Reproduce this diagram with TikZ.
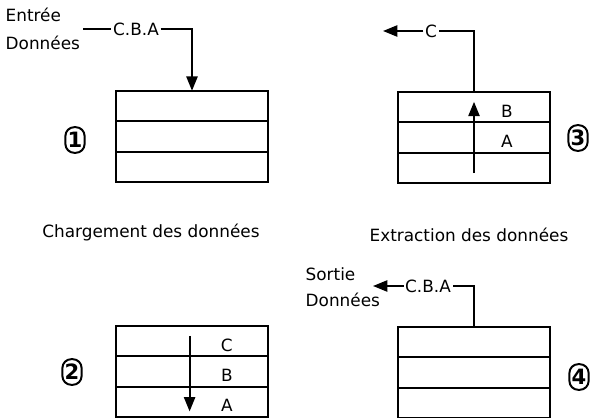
\documentclass[tikz,border=0pt]{standalone}
\usepackage{fontspec}
\setmainfont{DejaVu Sans}
\usetikzlibrary{arrows.meta,positioning}

\tikzset{
  cell/.style={draw, line width=1.4pt, minimum width=3.78cm, minimum height=0.76cm, inner sep=0pt, outer sep=0pt},
  tag/.style={draw, line width=1.4pt, rounded corners=2.2mm, minimum width=0.48cm, minimum height=0.64cm, inner sep=0pt, font=\fontsize{15}{17}\selectfont\bfseries},
  word/.style={font=\fontsize{12}{14}\selectfont, inner sep=1pt},
  wire/.style={line width=1.4pt},
  flow/.style={line width=1.4pt, -{Triangle[length=3.6mm, width=2.8mm]}}
}

\begin{document}
\begin{tikzpicture}[x=0.025cm, y=-0.025cm]
 \useasboundingbox (0,0) rectangle (590,418);

 % 1 : chargement
 \node[cell] (a1) at (192,106) {};
 \node[cell, below=0pt of a1] (a2) {};
 \node[cell, below=0pt of a2] (a3) {};
 \node[tag] (t1) at (75,140) {1};
 \node[word, anchor=west] (in1) at (4,15) {Entrée};
 \node[word, anchor=west] (in2) at (4,43) {Données};
 \node[word] (cba1) at (136,29) {C.B.A};
 \coordinate (s1) at (83,29);
 \coordinate (k1) at (a1.north |- cba1);
 \draw[wire] (s1) -- (cba1.west);
 \draw[flow] (cba1.east) -- (k1) -- (a1.north);
 \node[word] (cap1) at (151,233) {Chargement des données};

 % 2 : pile remplie
 \node[cell] (b1) at (192,341) {};
 \node[cell, below=0pt of b1] (b2) {};
 \node[cell, below=0pt of b2] (b3) {};
 \node[tag] (t2) at (72,372) {2};
 \node[word] (bc) at ([xshift=0.87cm, yshift=-1mm]b1.center) {C};
 \node[word] (bb) at ([xshift=0.87cm, yshift=-1mm]b2.center) {B};
 \node[word] (ba) at ([xshift=0.87cm, yshift=-1mm]b3.center) {A};
 \draw[flow] ([xshift=-0.06cm, yshift=1.3mm]b1.center) -- ([xshift=-0.06cm, yshift=-2.4mm]b3.center);

 % 3 : extraction
 \node[cell] (c1) at (474,107) {};
 \node[cell, below=0pt of c1] (c2) {};
 \node[cell, below=0pt of c2] (c3) {};
 \node[tag] (t3) at (578,138) {3};
 \node[word] (cb) at ([xshift=0.82cm, yshift=-1mm]c1.center) {B};
 \node[word] (ca) at ([xshift=0.82cm, yshift=-1mm]c2.center) {A};
 \node[word] (cc) at (431,31) {C};
 \coordinate (k3) at (c1.north |- cc);
 \coordinate (e3) at (383,31);
 \draw[wire] (c1.north) -- (k3) -- (cc.east);
 \draw[flow] (cc.west) -- (e3);
 \draw[flow] ([yshift=-1.3mm]c3.center) -- ([yshift=1.3mm]c1.center);
 \node[word] (cap3) at (469,235) {Extraction des données};

 % 4 : sortie
 \node[cell] (d1) at (474,342) {};
 \node[cell, below=0pt of d1] (d2) {};
 \node[cell, below=0pt of d2] (d3) {};
 \node[tag] (t4) at (579,377) {4};
 \node[word, anchor=west] (out1) at (304,274) {Sortie};
 \node[word, anchor=west] (out2) at (304,300) {Données};
 \node[word] (cba4) at (428,286) {C.B.A};
 \coordinate (k4) at (d1.north |- cba4);
 \coordinate (e4) at (373,286);
 \draw[wire] (d1.north) -- (k4) -- (cba4.east);
 \draw[flow] (cba4.west) -- (e4);
\end{tikzpicture}
\end{document}
